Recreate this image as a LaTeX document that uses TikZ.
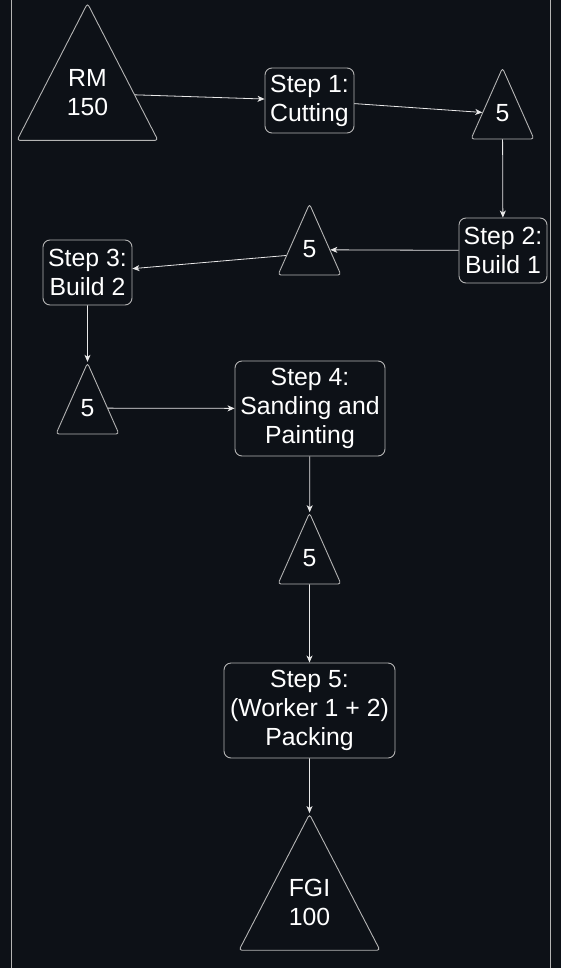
\documentclass[tikz,border=0pt]{standalone}
\usepackage{fontspec}
\setmainfont{Liberation Sans}
\usepackage{xcolor}
\usepackage{tikz}
\usetikzlibrary{shapes.geometric,arrows.meta,positioning}

\definecolor{bgdark}{HTML}{0D1117}
\definecolor{edgegray}{HTML}{B4B4B4}
\definecolor{linegray}{HTML}{E8E8E8}

\tikzset{
  stepbox/.style={draw=edgegray, line width=0.9pt, rounded corners=7pt, align=center, text=white, inner sep=0pt},
  % the rule lifts the text inside the triangle
  stock/.style={isosceles triangle, isosceles triangle stretches, shape border rotate=90,
    draw=edgegray, line width=0.9pt, rounded corners=3pt, align=center, text=white, inner sep=0pt,
    execute at end node={\rule[-#1]{0pt}{#1}}},
  flow/.style={draw=linegray, line width=0.8pt, -{Stealth[length=7pt,width=6pt,inset=2pt]}},
}

\begin{document}
\begin{tikzpicture}[x=1pt, y=-1pt, font=\fontsize{24.8}{29}\selectfont]
    % Background and lane borders
    \fill[bgdark] (0,0) rectangle (561,968);
    \useasboundingbox (0,0) rectangle (561,968);
    \draw[edgegray, line width=1pt] (11.5,0) -- (11.5,968);
    \draw[edgegray, line width=1pt] (550,0) -- (550,968);

    % Raw material and steps
    \node[stock=13pt, minimum width=141pt, minimum height=137pt] (rm) at (87.5,99) {RM\\150};
    \node[stepbox, minimum width=89pt, minimum height=65pt] (cut) at (309.5,100.5) {Step 1:\\Cutting};
    \node[stock=9pt, minimum width=63pt, minimum height=71pt] (wip1) at (502.5,117.5) {5};
    \node[stepbox, minimum width=88pt, minimum height=65pt] (build1) at (503,250.5) {Step 2:\\Build 1};
    \node[stock=9pt, minimum width=63pt, minimum height=71pt] (wip2) at (309.5,253.5) {5};
    \node[stepbox, minimum width=89pt, minimum height=65pt] (build2) at (87.5,272.5) {Step 3:\\Build 2};
    \node[stock=9pt, minimum width=63pt, minimum height=71pt] (wip3) at (87.5,412.5) {5};
    \node[stepbox, minimum width=150pt, minimum height=95pt] (paint) at (310,408.5) {Step 4:\\Sanding and\\Painting};
    \node[stock=9pt, minimum width=63pt, minimum height=71pt] (wip4) at (309.5,562.5) {5};
    \node[stepbox, minimum width=171pt, minimum height=95pt] (pack) at (309.5,710.5) {Step 5:\\(Worker 1 + 2)\\Packing};
    \node[stock=13pt, minimum width=141pt, minimum height=136pt] (fgi) at (309.5,909) {FGI\\100};

    % Flow
    \draw[flow] (rm.5) -- (cut);
    \draw[flow] (cut) -- (wip1.166);
    \draw[flow] (wip1) -- (build1);
    \draw[flow] (build1) -- (wip2.10);
    \draw[flow] (wip2) -- (build2);
    \draw[flow] (build2) -- (wip3);
    \draw[flow] (wip3.12) -- (paint);
    \draw[flow] (paint) -- (wip4);
    \draw[flow] (wip4) -- (pack);
    \draw[flow] (pack) -- (fgi);
\end{tikzpicture}
\end{document}
